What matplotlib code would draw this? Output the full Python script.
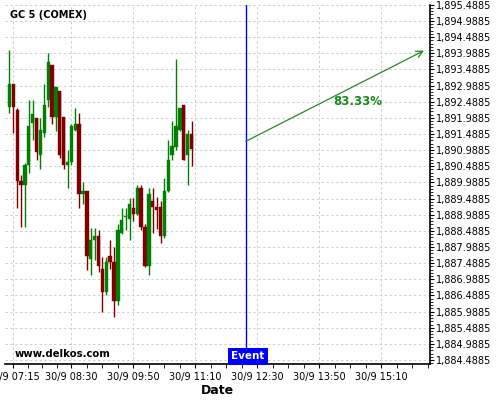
import numpy as np
import matplotlib
matplotlib.use("Agg")
import matplotlib.pyplot as plt
from matplotlib.ticker import FixedLocator, FuncFormatter

# ---- data ----
start_min = 430          # 07:10, minutes since midnight
step_min = 5
opens = [1892.32, 1893.02, 1892.22, 1890.02, 1889.90, 1890.52, 1891.82, 1891.99,
         1890.83, 1891.51, 1892.53, 1893.61, 1892.01, 1892.81, 1892.01, 1890.52,
         1890.62, 1891.62, 1891.81, 1889.62, 1889.71, 1887.63, 1888.20, 1888.32,
         1887.30, 1886.60, 1887.70, 1887.51, 1886.32, 1888.42, 1888.92, 1888.84,
         1889.21, 1889.02, 1889.80, 1888.61, 1887.40, 1889.41, 1889.23, 1889.23,
         1888.32, 1889.72, 1890.83, 1891.08, 1891.60, 1892.40, 1890.83, 1891.50]
highs = [1894.09, 1893.02, 1892.30, 1890.21, 1890.60, 1892.53, 1892.53, 1891.99,
         1891.99, 1893.02, 1893.99, 1893.61, 1892.94, 1892.81, 1892.01, 1891.00,
         1891.81, 1892.30, 1892.13, 1890.00, 1889.71, 1888.59, 1888.59, 1888.51,
         1887.68, 1887.68, 1888.20, 1887.99, 1888.69, 1889.21, 1889.21, 1889.49,
         1889.49, 1889.90, 1889.90, 1888.69, 1889.80, 1889.80, 1889.54, 1889.41,
         1890.11, 1891.31, 1891.89, 1893.81, 1892.30, 1892.40, 1891.60, 1891.89]
lows = [1892.13, 1891.51, 1889.21, 1888.60, 1888.60, 1890.28, 1891.31, 1890.69,
        1890.41, 1891.39, 1892.32, 1891.81, 1891.58, 1890.75, 1890.41, 1889.80,
        1890.52, 1891.58, 1889.21, 1889.31, 1887.29, 1887.12, 1887.60, 1887.20,
        1885.98, 1886.50, 1887.30, 1885.83, 1886.19, 1888.38, 1888.51, 1888.20,
        1888.79, 1888.97, 1888.51, 1887.37, 1887.12, 1888.41, 1888.56, 1888.10,
        1888.28, 1889.69, 1890.69, 1891.00, 1891.58, 1890.67, 1889.90, 1890.49]
closes = [1893.02, 1892.32, 1890.02, 1889.90, 1890.52, 1891.72, 1892.11, 1890.93,
          1891.60, 1892.40, 1893.73, 1892.01, 1892.94, 1890.83, 1890.52, 1890.62,
          1891.72, 1891.81, 1889.62, 1889.71, 1887.70, 1888.20, 1888.32, 1887.40,
          1886.60, 1887.51, 1887.51, 1886.32, 1888.51, 1888.82, 1888.94, 1889.31,
          1889.02, 1889.80, 1888.61, 1887.40, 1889.64, 1889.23, 1889.13, 1888.32,
          1889.72, 1890.69, 1891.10, 1891.72, 1892.30, 1890.69, 1891.50, 1891.03]

event_min = 735          # 12:15
arrow_end_min = 965      # 16:05
arrow_start_price = 1891.26
arrow_end_price = 1894.07
prob_label = "83.33%"

xtick_pos = [435, 510, 590, 670, 750, 830, 910]
xtick_labels = ["30/9 07:15", "30/9 08:30", "30/9 09:50", "30/9 11:10",
                "30/9 12:30", "30/9 13:50", "30/9 15:10"]
ytick_start = 1884.4885
ytick_count = 23
ytick_step = 0.5

title = "GC 5 (COMEX)"
watermark = "www.delkos.com"
xlabel = "Date"

# ---- figure ----
W, H = 500, 400
fig = plt.figure(figsize=(5, 4), dpi=100)
ax = fig.add_axes([5 / W, 1 - 364 / H, 425 / W, (364 - 4.7) / H])

green = "#008000"
red = "#800000"
n = len(opens)
times = start_min + step_min * np.arange(n)
body_w = 4.3
for t, o, h, l, c in zip(times, opens, highs, lows, closes):
    col = green if c >= o else red
    ax.vlines(t, l, h, color=col, linewidth=1.0, zorder=3)
    lo, hi = min(o, c), max(o, c)
    ax.bar(t, max(hi - lo, 0.03), bottom=lo, width=body_w, color=col,
           edgecolor=col, linewidth=0.3, zorder=4)

ymin = ytick_start - 0.123
ax.set_xlim(424.3, 972.7)
yticks = ytick_start + ytick_step * np.arange(ytick_count)
ax.set_ylim(ymin, yticks[-1] + 0.002)

ax.yaxis.tick_right()
ax.set_yticks(yticks)
ax.yaxis.set_major_formatter(FuncFormatter(lambda v, p: f"{v:,.4f}"))
ax.yaxis.set_minor_locator(FixedLocator(np.arange(ytick_start - 0.1, yticks[-1] + 0.01, 0.1)))
ax.set_xticks(xtick_pos)
ax.set_xticklabels(xtick_labels)
minor_x = np.concatenate([np.linspace(435, 510, 5), np.arange(510, 975, 20)])
ax.xaxis.set_minor_locator(FixedLocator(minor_x))

ax.tick_params(axis="y", which="major", labelsize=7, length=3, width=0.8,
               pad=1, colors="black")
ax.tick_params(axis="y", which="minor", length=2, width=0.6)
ax.tick_params(axis="x", which="major", labelsize=7, length=3, width=0.8, pad=3)
ax.tick_params(axis="x", which="minor", length=3, width=0.6)

for s in ["left", "top"]:
    ax.spines[s].set_visible(False)
ax.spines["right"].set_linewidth(1.2)
ax.spines["bottom"].set_linewidth(1.2)

ax.grid(True, which="major", linestyle=(0, (2.5, 2.5)), color="#cfcfcf", linewidth=0.7)
ax.set_axisbelow(True)

ax.set_xlabel(xlabel, fontsize=9, fontweight="bold", labelpad=1)

# event line and label
ax.axvline(event_min, color="#0000ff", linewidth=1.0, zorder=5)
ax.text(event_min + 2.5, ymin + 0.08, "Event", color="white",
        fontsize=7.5, fontweight="bold", ha="center", va="bottom", zorder=6,
        bbox=dict(boxstyle="square,pad=0.32", facecolor="#0000ff", edgecolor="none"))

# arrow and probability
ax.annotate("", xy=(arrow_end_min, arrow_end_price),
            xytext=(event_min, arrow_start_price),
            arrowprops=dict(arrowstyle="->", color="#228b22", linewidth=0.9,
                            shrinkA=0, shrinkB=0, mutation_scale=12), zorder=6)
ax.text(880, 1892.48, prob_label, color="#1a8a1a", fontsize=8.5,
        fontweight="bold", ha="center", va="center")

fig.text(10 / W, 1 - 15 / H, title, fontsize=7, fontweight="bold",
         ha="left", va="center")
fig.text(15 / W, 1 - 354 / H, watermark, fontsize=7.3, fontweight="bold",
         ha="left", va="center")

fig.savefig("out.png", dpi=100, facecolor="white")
